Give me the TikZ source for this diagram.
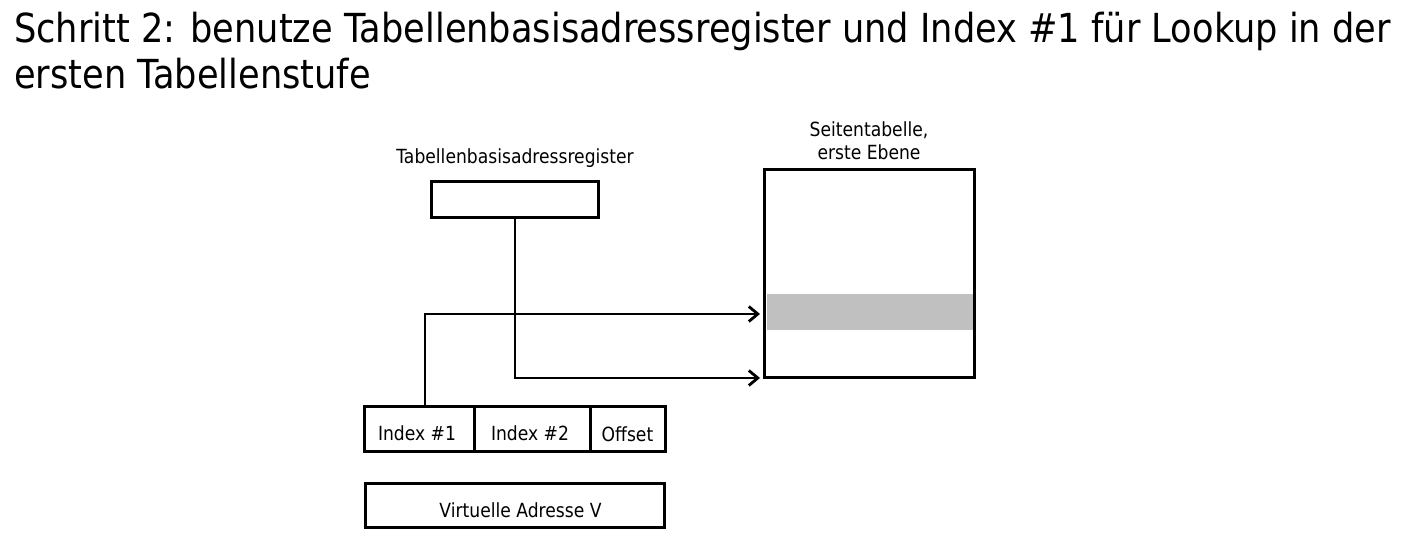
\documentclass[tikz,border=0pt]{standalone}
\usepackage{fontspec}
\setmainfont{DejaVu Sans}[FakeStretch=0.88]
\usetikzlibrary{arrows.meta}
\definecolor{bargray}{HTML}{C0C0C0}
\tikzset{
  box/.style={draw, line width=3pt, inner sep=0pt},
  lbl/.style={font=\fontsize{19.5}{23}\selectfont, inner sep=0pt},
  conn/.style={line width=2.8pt, -{Straight Barb[length=9pt,width=15pt,line width=2.8pt]}},
}
\begin{document}
\begin{tikzpicture}[x=1pt,y=-1pt]
\useasboundingbox (0,0) rectangle (1410,544);
% title
\node[anchor=base west, inner sep=0pt, font=\fontsize{40}{46}\selectfont] (t1) at (14,42) {Schritt 2: benutze Tabellenbasisadressregister und Index \#1 für Lookup in der};
\node[anchor=base west, inner sep=0pt, font=\fontsize{40}{46}\selectfont] (t2) at (14,88) {ersten Tabellenstufe};
% register
\node[box, minimum width=167, minimum height=36] (reg) at (515,199.5) {};
\node[lbl] (reglbl) at (515,158) {Tabellenbasisadressregister};
% page table
\node[box, minimum width=210, minimum height=208] (pt) at (869.5,273.5) {};
\fill[bargray] (767,294) rectangle (973,330);
\node[lbl, align=center, font=\fontsize{19.5}{23}\selectfont] (ptlbl) at (869,141) {Seitentabelle,\\erste Ebene};
% index fields
\node[box, minimum width=110, minimum height=45] (i1) at (419,429) {};
\node[lbl, anchor=base] at ([xshift=-2,yshift=-11]i1.center) {Index \#1};
\node[box, minimum width=116, minimum height=45] (i2) at (532,429) {};
\node[lbl, anchor=base] at ([xshift=-2,yshift=-11]i2.center) {Index \#2};
\node[box, minimum width=75, minimum height=45] (off) at (627.5,429) {};
\node[lbl, anchor=base] at ([yshift=-12]off.center) {Offset};
% virtual address
\node[box, minimum width=299, minimum height=44] (va) at (514.5,505.5) {};
\node[lbl, anchor=base] at ([xshift=6,yshift=-12]va.center) {Virtuelle Adresse V};
% arrow ends
\coordinate (e1) at (760,314);
\coordinate (e2) at (760,378);
\draw[conn] (reg.south) |- (e2);
\draw[conn] ([xshift=6]i1.north) |- (e1);
\end{tikzpicture}
\end{document}
